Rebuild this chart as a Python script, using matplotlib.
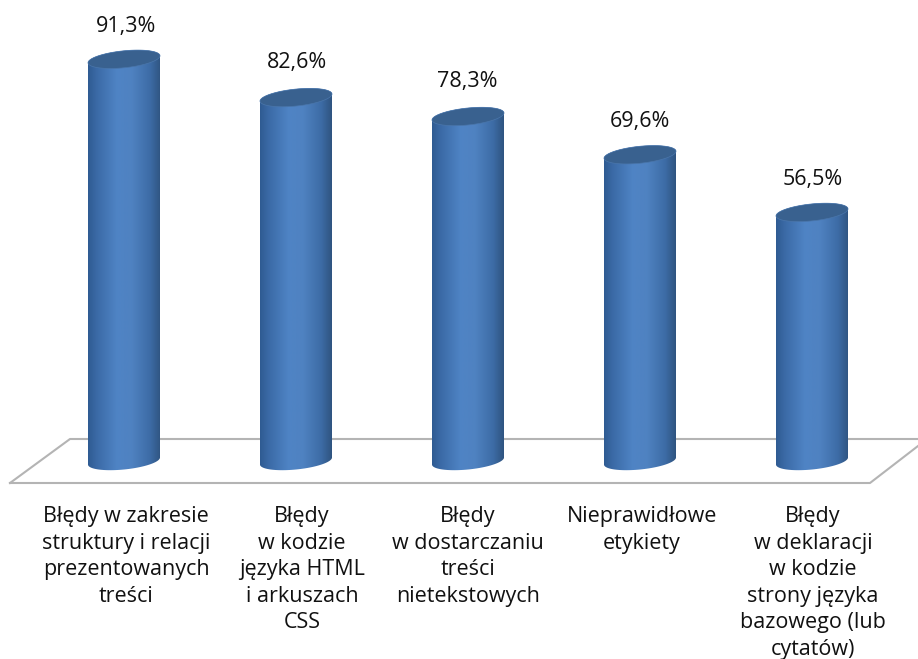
import numpy as np
import matplotlib
matplotlib.use('Agg')
import matplotlib.pyplot as plt
from matplotlib.colors import LinearSegmentedColormap
from matplotlib.patches import PathPatch, Polygon
from matplotlib.path import Path

# data
values = [91.3, 82.6, 78.3, 69.6, 56.5]
value_labels = ['91,3%', '82,6%', '78,3%', '69,6%', '56,5%']
categories = [
    'Błędy w zakresie\nstruktury i relacji\nprezentowanych\ntreści',
    'Błędy\nw kodzie\njęzyka HTML\ni arkuszach\nCSS',
    'Błędy\nw dostarczaniu\ntreści\nnietekstowych',
    'Nieprawidłowe\netykiety',
    'Błędy\nw deklaracji\nw kodzie\nstrony języka\nbazowego (lub\ncytatów)',
]

# pixels per unit on each axis
px_x = 172.0
px_y = 4.4
half_w = 36.0 / px_x
tilt = 3.5 / px_y
half_h = 8.5 / px_y

plt.rcParams['font.family'] = ['Open Sans', 'DejaVu Sans']

fig = plt.figure(figsize=(9.18, 6.59), dpi=100)
ax = fig.add_axes([0, 0, 1, 1])
xlim = (-124 / px_x, (918 - 124) / px_x)
ylim = ((461 - 659) / px_y, 461 / px_y)

body_cmap = LinearSegmentedColormap.from_list('body', [
    (0.0, '#2f5b92'), (0.12, '#3b6aa6'), (0.4, '#4f84c5'),
    (0.6, '#4f82c1'), (0.85, '#3d6ca6'), (1.0, '#2f5480')])
gradient = np.linspace(0, 1, 256).reshape(1, -1)


def rim(x0, y0, t):
    return np.column_stack([x0 + half_w * np.cos(t),
                            y0 + tilt * np.cos(t) + half_h * np.sin(t)])


# floor of the chart
ax.plot([-114 / px_x, -54 / px_x, 800 / px_x], [-22 / px_y, 22 / px_y, 22 / px_y],
        color='#b4b4b4', lw=1.5, zorder=1)
ax.plot([-114 / px_x, 746 / px_x, 794 / px_x], [-22 / px_y, -22 / px_y, 15 / px_y],
        color='#b4b4b4', lw=1.5, zorder=1)

# per-label nudges, in pixels
value_dx = [2, 1, -1, 0, 1]
value_dy = [33, 35, 35, 33.5, 33]
label_dx = [2, 6, 0, 2, 1]

# cylinders
for i, v in enumerate(values):
    top_half = rim(i, v, np.linspace(np.pi, 0, 60))
    low_half = rim(i, 0, np.linspace(0, -np.pi, 60))
    outline = np.vstack([top_half, low_half, top_half[:1]])
    body = PathPatch(Path(outline), fc='none', ec='none', transform=ax.transData)
    ax.add_patch(body)
    im = ax.imshow(gradient, cmap=body_cmap, aspect='auto', zorder=2,
                   extent=(i - half_w, i + half_w, -20, v + 10), interpolation='bilinear')
    im.set_clip_path(body)
    cap = rim(i, v, np.linspace(0, 2 * np.pi, 120))
    ax.add_patch(Polygon(cap, closed=True, fc='#39618f', ec='#4a76ab', lw=0.5, zorder=3))
    ax.text(i + value_dx[i] / px_x, v + value_dy[i] / px_y, value_labels[i],
            ha='center', va='center', fontsize=15.5, color='#111111')

for i, label in enumerate(categories):
    ax.text(i + label_dx[i] / px_x, -45 / px_y, label, ha='center', va='top',
            fontsize=15.5, color='#111111', linespacing=1.35)

ax.set_xlim(xlim)
ax.set_ylim(ylim)
ax.axis('off')

fig.savefig('out.png', dpi=100)
